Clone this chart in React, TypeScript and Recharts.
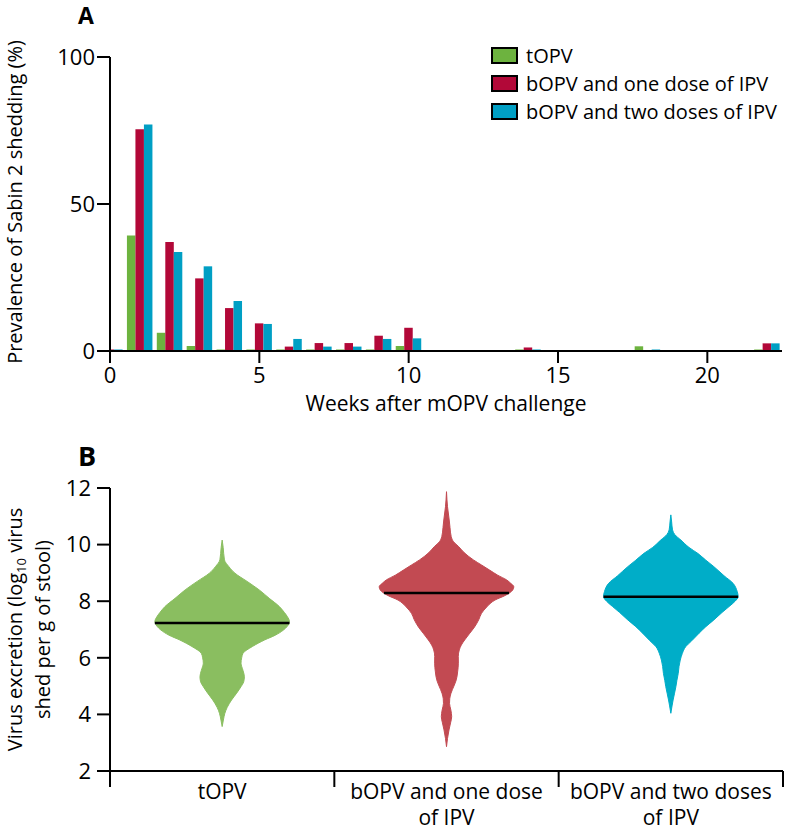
import React from 'react';
import {
  BarChart,
  Bar,
  XAxis,
  YAxis,
  Legend,
  ComposedChart,
  Area,
  ReferenceLine,
  Label,
} from 'recharts';

// ---------- Panel A data ----------
const weeks = [0, 1, 2, 3, 4, 5, 6, 7, 8, 9, 10, 14, 18, 22];
const tOPVShedding = [null, 39.3, 6.2, 1.7, 0, 0, 0, 0, 0, 0, 1.7, 0, 1.6, 0];
const bOPV1Shedding = [0, 75.4, 37.1, 24.7, 14.6, 9.4, 1.5, 2.7, 2.7, 5.2, 7.9, 1.2, null, 2.6];
const bOPV2Shedding = [0, 77.0, 33.7, 28.8, 17.0, 9.2, 4.1, 1.5, 1.5, 4.1, 4.3, 0, 0, 2.6];
const seriesNames = ['tOPV', 'bOPV and one dose of IPV', 'bOPV and two doses of IPV'];
const weekTicks = [0, 5, 10, 15, 20];
const prevalenceTicks = [0, 50, 100];

// ---------- Panel B data ----------
const violinGroups = ['tOPV', 'bOPV and one dose of IPV', 'bOPV and two doses of IPV'];
// [log10 virus shed, relative density in % of the widest point]
const tOPVDensity = [
  [3.57, 0], [3.8, 1.8], [4.04, 4], [4.25, 7.5], [4.51, 14], [4.75, 21.5], [4.98, 28], [5.15, 32],
  [5.33, 33], [5.55, 31], [5.81, 28], [6.0, 29], [6.16, 31], [6.4, 45], [6.63, 63], [6.8, 79],
  [6.98, 91], [7.12, 97], [7.28, 100], [7.45, 97], [7.6, 92.5], [7.81, 85], [8.1, 70], [8.4, 55],
  [8.7, 37], [8.99, 19], [9.22, 10], [9.46, 3.4], [9.9, 1.5], [10.16, 0],
];
const bOPV1Density = [
  [2.86, 0], [3.15, 1.5], [3.45, 3.7], [3.7, 6], [3.92, 7.7], [4.15, 6.5], [4.39, 4.5], [4.55, 4.8],
  [4.75, 6.7], [5.0, 11], [5.22, 14.5], [5.5, 16.5], [5.81, 17.6], [6.05, 17.5], [6.28, 19],
  [6.45, 22], [6.63, 27], [6.85, 34], [7.1, 42], [7.35, 48], [7.57, 52], [7.8, 60], [8.04, 72],
  [8.2, 87], [8.3, 94], [8.4, 98.5], [8.51, 100], [8.63, 95.5], [8.75, 89.5], [8.92, 76], [9.1, 64],
  [9.28, 52], [9.46, 40], [9.7, 27], [9.93, 18], [10.1, 10.5], [10.28, 7], [10.6, 5.2], [10.87, 4],
  [11.34, 1.5], [11.87, 0],
];
const bOPV2Density = [
  [4.04, 0], [4.3, 1.8], [4.51, 3.4], [4.75, 5.5], [4.98, 7.5], [5.2, 9], [5.45, 11], [5.7, 12.2],
  [5.92, 14], [6.15, 17], [6.39, 22], [6.6, 31], [6.87, 42], [7.1, 52], [7.34, 64], [7.6, 76],
  [7.81, 86.5], [8.0, 95.5], [8.16, 100], [8.35, 98.5], [8.63, 92.5], [8.9, 79], [9.22, 64],
  [9.45, 52], [9.69, 40], [9.9, 27], [10.16, 15], [10.35, 6], [10.52, 2.5], [10.8, 1.2], [11.05, 0],
];
const medians = [7.23, 8.29, 8.16];
const medianDensity = [100, 93, 100];
const excretionTicks = [2, 4, 6, 8, 10, 12];

// ---------- styles ----------
const FONT = "'Open Sans', sans-serif";
const barColors = ['#6db33f', '#b20838', '#009fc4'];
const violinColors = ['#8abe60', '#c24a52', '#00adc8'];
const MAX_HALF = 0.3;

const barRows = weeks.map((w, i) => ({
  week: w,
  tOPV: tOPVShedding[i],
  bOPV1: bOPV1Shedding[i],
  bOPV2: bOPV2Shedding[i],
}));
const densities = [tOPVDensity, bOPV1Density, bOPV2Density];
const violinData = densities.map((arr) => arr.map(([y, d]) => ({ y, d })));

const minSize = (v: any) => (v === 0 ? 1.5 : 0);

const LegendContent = (props: any) => {
  const payload = [...(props.payload || [])].sort(
    (a: any, b: any) => seriesNames.indexOf(a.value) - seriesNames.indexOf(b.value)
  );
  return (
    <div style={{ fontFamily: FONT, fontSize: 20, color: '#000' }}>
      {payload.map((p: any, i: number) => (
        <div key={i} style={{ display: 'flex', alignItems: 'center', height: 28, whiteSpace: 'nowrap' }}>
          <span
            style={{
              display: 'inline-block',
              width: 23,
              height: 13,
              background: p.color,
              border: '2px solid #000',
              marginRight: 8,
            }}
          />
          <span>{p.value}</span>
        </div>
      ))}
    </div>
  );
};

const RotatedLabelA = (props: any) => {
  const vb = props.viewBox || {};
  const cy = vb.y + vb.height / 2 - 2;
  const x = 21.5;
  return (
    <text
      x={x}
      y={cy}
      transform={`rotate(-90, ${x}, ${cy})`}
      textAnchor="middle"
      fontFamily={FONT}
      fontSize={20}
      fill="#000"
    >
      {props.value}
    </text>
  );
};

const BottomLabelA = (props: any) => {
  const vb = props.viewBox || {};
  return (
    <text x={vb.x + vb.width / 2} y={vb.y + 60} textAnchor="middle" fontFamily={FONT} fontSize={21} fill="#000">
      {props.value}
    </text>
  );
};

const RotatedLabelB = (props: any) => {
  const vb = props.viewBox || {};
  const cy = vb.y + vb.height / 2;
  const x1 = 21.5;
  const x2 = 50;
  return (
    <g fontFamily={FONT} fontSize={20} fill="#000">
      <text x={x1} y={cy} transform={`rotate(-90, ${x1}, ${cy})`} textAnchor="middle">
        Virus excretion (log
        <tspan fontSize={13} dy={4}>10</tspan>
        <tspan dy={-4}> virus</tspan>
      </text>
      <text x={x2} y={cy} transform={`rotate(-90, ${x2}, ${cy})`} textAnchor="middle">
        shed per g of stool)
      </text>
    </g>
  );
};

const wrapLabel = (s: string, max: number) => {
  const words = s.split(' ');
  const lines: string[] = [];
  let cur = '';
  words.forEach((w) => {
    const next = cur ? cur + ' ' + w : w;
    if (next.length > max && cur) {
      lines.push(cur);
      cur = w;
    } else {
      cur = next;
    }
  });
  if (cur) lines.push(cur);
  return lines;
};

const CategoryTick = (props: any) => {
  const { x, y, payload } = props;
  const v = payload.value;
  if (Number.isInteger(v)) {
    return <line x1={x} x2={x} y1={y} y2={y + 16} stroke="#000" strokeWidth={2} />;
  }
  const label = violinGroups[Math.floor(v)];
  const lines = wrapLabel(label, 18);
  return (
    <text x={x} textAnchor="middle" fontFamily={FONT} fontSize={21} fill="#000">
      {lines.map((l, i) => (
        <tspan key={i} x={x} y={y + 28 + i * 26}>
          {l}
        </tspan>
      ))}
    </text>
  );
};

export default function App() {
  return (
    <div style={{ position: 'absolute', left: 0, top: 0, width: 785, height: 831, background: '#fff' }}>
      <div
        style={{
          position: 'absolute',
          left: 78,
          top: 4,
          fontFamily: FONT,
          fontWeight: 700,
          fontSize: 23,
          lineHeight: 1,
        }}
      >
        A
      </div>
      <div
        style={{
          position: 'absolute',
          left: 78,
          top: 442,
          fontFamily: FONT,
          fontWeight: 700,
          fontSize: 27,
          lineHeight: 1,
        }}
      >
        B
      </div>

      <div style={{ position: 'absolute', left: 0, top: 0 }}>
        <BarChart
          width={785}
          height={440}
          data={barRows}
          margin={{ top: 57, right: 3, bottom: 19, left: 50 }}
          barGap={0}
          barSize={8.5}
        >
          <XAxis
            dataKey="week"
            type="number"
            domain={[0, 22.5]}
            allowDataOverflow
            ticks={weekTicks}
            interval={0}
            height={70}
            tickSize={12}
            tickMargin={4}
            axisLine={{ stroke: '#000', strokeWidth: 2 }}
            tickLine={{ stroke: '#000', strokeWidth: 2 }}
            tick={{ fill: '#000', fontSize: 22, fontFamily: FONT }}
          >
            <Label value="Weeks after mOPV challenge" content={BottomLabelA} />
          </XAxis>
          <YAxis
            type="number"
            domain={[0, 100]}
            ticks={prevalenceTicks}
            interval={0}
            width={60}
            tickSize={13}
            tickMargin={2}
            axisLine={{ stroke: '#000', strokeWidth: 2 }}
            tickLine={{ stroke: '#000', strokeWidth: 2 }}
            tick={{ fill: '#000', fontSize: 22, fontFamily: FONT }}
          >
            <Label value="Prevalence of Sabin 2 shedding (%)" content={RotatedLabelA} />
          </YAxis>
          <Bar dataKey="tOPV" name={seriesNames[0]} fill={barColors[0]} minPointSize={minSize} isAnimationActive={false} />
          <Bar dataKey="bOPV1" name={seriesNames[1]} fill={barColors[1]} minPointSize={minSize} isAnimationActive={false} />
          <Bar dataKey="bOPV2" name={seriesNames[2]} fill={barColors[2]} minPointSize={minSize} isAnimationActive={false} />
          <Legend
            content={LegendContent}
            align="center"
            verticalAlign="middle"
            layout="vertical"
            wrapperStyle={{ left: 491, top: 41, width: 294 }}
          />
        </BarChart>
      </div>

      <div style={{ position: 'absolute', left: 0, top: 440 }}>
        <ComposedChart
          layout="vertical"
          width={785}
          height={391}
          margin={{ top: 48, right: 2, bottom: 0, left: 50 }}
        >
          <XAxis
            type="number"
            domain={[0, 3]}
            ticks={[0, 0.5, 1, 1.5, 2, 2.5, 3]}
            interval={0}
            height={60}
            tickSize={0}
            tickMargin={0}
            tickLine={false}
            axisLine={{ stroke: '#000', strokeWidth: 2 }}
            tick={CategoryTick}
          />
          <YAxis
            type="number"
            dataKey="y"
            domain={[2, 12]}
            reversed
            ticks={excretionTicks}
            interval={0}
            width={60}
            tickSize={13}
            tickMargin={6}
            axisLine={{ stroke: '#000', strokeWidth: 2 }}
            tickLine={{ stroke: '#000', strokeWidth: 2 }}
            tick={{ fill: '#000', fontSize: 22, fontFamily: FONT }}
          >
            <Label content={RotatedLabelB} />
          </YAxis>
          {violinData.map((data, i) => (
            <Area
              key={i}
              data={data}
              type="monotone"
              dataKey={(e: any) => [i + 0.5 - (e.d / 100) * MAX_HALF, i + 0.5 + (e.d / 100) * MAX_HALF]}
              fill={violinColors[i]}
              fillOpacity={1}
              stroke={violinColors[i]}
              strokeWidth={1}
              dot={false}
              activeDot={false}
              isAnimationActive={false}
            />
          ))}
          {medians.map((m, i) => (
            <ReferenceLine
              key={i}
              segment={[
                { x: i + 0.5 - (medianDensity[i] / 100) * MAX_HALF, y: m },
                { x: i + 0.5 + (medianDensity[i] / 100) * MAX_HALF, y: m },
              ]}
              stroke="#000"
              strokeWidth={2.5}
            />
          ))}
        </ComposedChart>
      </div>
    </div>
  );
}
